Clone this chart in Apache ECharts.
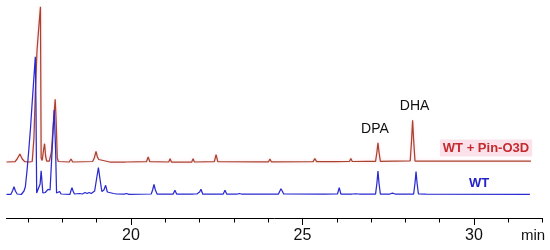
<!DOCTYPE html>
<html>
<head>
<meta charset="utf-8">
<script src="https://cdn.jsdelivr.net/npm/echarts@6/dist/echarts.min.js"></script>
<style>
  html, body { margin: 0; padding: 0; background: #fff; }
  #chart { width: 550px; height: 250px; }
</style>
</head>
<body>
<div id="chart"></div>
<script>
'use strict';
// [retention time (min), signal]; the two traces are stacked with an offset
const wtTrace = [
  [16.37, 23.7], [16.50, 23.7], [16.55, 27.5], [16.59, 31.3], [16.63, 27], [16.68, 24],
  [16.80, 23.5], [16.84, 24.5], [16.88, 27], [16.92, 31.3], [16.97, 48], [17.02, 68],
  [17.07, 90], [17.11, 111], [17.16, 136], [17.21, 161.3], [17.23, 110], [17.25, 25],
  [17.30, 24], [17.35, 34], [17.38, 47.3], [17.41, 34], [17.43, 25], [17.50, 25.5],
  [17.58, 28.7], [17.64, 28], [17.70, 68], [17.76, 108], [17.80, 70], [17.83, 25],
  [17.88, 24.5], [17.92, 26.5], [17.96, 24], [18.22, 23.7], [18.25, 27.5], [18.28, 30.3],
  [18.31, 27], [18.35, 24], [18.50, 24.5], [18.54, 26], [18.58, 24], [18.66, 25.5],
  [18.72, 24.5], [18.78, 25.5], [18.84, 24.5], [18.94, 27], [19.00, 40], [19.05, 50.3],
  [19.10, 38], [19.15, 26.5], [19.21, 28], [19.26, 32.7], [19.31, 26], [19.36, 24],
  [19.49, 24.5], [19.53, 26.3], [19.58, 24], [19.80, 23.8], [19.87, 24.5], [19.94, 23.7],
  [20.59, 24], [20.63, 28], [20.67, 33.7], [20.71, 28], [20.76, 24],
  [21.23, 24], [21.28, 27.7], [21.33, 24],
  [21.82, 24], [21.87, 25.3], [21.93, 24.2], [22.00, 26], [22.04, 28.7], [22.09, 24],
  [22.69, 24], [22.74, 27.7], [22.79, 24],
  [23.10, 24], [23.16, 24.5], [23.22, 24],
  [24.30, 24], [24.34, 27], [24.37, 29.3], [24.41, 27], [24.45, 24],
  [25.56, 23.8], [25.60, 24.5], [25.64, 23.8],
  [26.02, 24], [26.07, 30.3], [26.12, 24],
  [26.45, 24], [26.50, 25.3], [26.55, 24.2], [26.60, 25.3], [26.65, 24],
  [26.85, 24], [26.90, 25.3], [26.95, 24],
  [27.13, 24], [27.17, 35], [27.20, 47], [27.23, 35], [27.27, 24],
  [27.55, 24], [27.62, 24.8], [27.70, 24],
  [28.24, 24], [28.28, 35], [28.31, 46.5], [28.34, 35], [28.38, 24],
  [28.60, 23.8], [31.63, 23.7]
];

const mixTrace = [
  [16.37, 56], [16.62, 56.3], [16.68, 59], [16.76, 64], [16.83, 59], [16.90, 56.3],
  [17.05, 56], [17.12, 56.5], [17.17, 80], [17.21, 125], [17.26, 168], [17.31, 190],
  [17.36, 211.3], [17.38, 60], [17.41, 57.5], [17.45, 68], [17.48, 74.3], [17.51, 62],
  [17.54, 57], [17.62, 57], [17.68, 66], [17.73, 92], [17.79, 118.7], [17.82, 95],
  [17.85, 60], [17.88, 56.5], [18.20, 56], [18.25, 59], [18.30, 56],
  [18.88, 56.5], [18.93, 60], [18.98, 66.6], [19.02, 61], [19.06, 58.5], [19.10, 56.5],
  [19.38, 56], [19.42, 57.6], [19.46, 56],
  [19.76, 56], [19.80, 57], [19.84, 56],
  [20.45, 56.3], [20.50, 61], [20.55, 56.3],
  [21.10, 56], [21.14, 59.3], [21.18, 56],
  [21.56, 56], [21.60, 57.6], [21.64, 56], [21.77, 56], [21.81, 59.3], [21.85, 56],
  [22.43, 56.3], [22.48, 63.3], [22.53, 56.3],
  [23.78, 56.2], [23.82, 57.6], [23.86, 56.2], [24.01, 56.2], [24.05, 59], [24.09, 56.2],
  [25.31, 56.4], [25.36, 59.5], [25.41, 56.4],
  [25.88, 56.4], [25.92, 58], [25.96, 56.4],
  [26.37, 56.5], [26.41, 59.5], [26.45, 56.5],
  [26.86, 56.6], [26.90, 58.2], [26.94, 56.6],
  [27.13, 56.7], [27.17, 66], [27.20, 75.3], [27.23, 66], [27.27, 56.7],
  [27.63, 56.8], [27.67, 57.6], [27.71, 56.8],
  [28.14, 57], [28.18, 78], [28.21, 97.7], [28.24, 78], [28.28, 57],
  [28.82, 57], [28.86, 59], [28.90, 57],
  [31.66, 57]
];

const majorTicks = [20, 25, 30];
const minorTicks = [17, 18, 19, 20, 21, 22, 23, 24, 25, 26, 27, 28, 29, 30, 31, 32];
const peakNames = ['DPA', 'DHA'];
const peakTimes = [27.20, 28.21];
const peakHeights = [75.3, 97.7];

const FONT = 'Arial, "Liberation Sans", sans-serif';
const RED = '#a8442e';
const BLUE = '#2a2ad0';

const chart = echarts.init(document.getElementById('chart'), null, { renderer: 'canvas' });

const xBase = {
  type: 'value',
  min: 16.37,
  max: 32,
  position: 'bottom',
  splitLine: { show: false }
};

chart.setOption({
  animation: false,
  backgroundColor: '#fff',
  grid: { left: 6.5, right: 7.4, top: 0, bottom: 32 },
  xAxis: [
    Object.assign({}, xBase, {
      axisLine: { show: true, lineStyle: { color: '#000', width: 1 } },
      axisTick: { show: true, length: 7, customValues: majorTicks, lineStyle: { color: '#000' } },
      axisLabel: { customValues: majorTicks, fontSize: 16, color: '#111', margin: 10, fontFamily: FONT }
    }),
    Object.assign({}, xBase, {
      axisLine: { show: false },
      axisTick: { show: true, length: 4.5, customValues: minorTicks, lineStyle: { color: '#000' } },
      axisLabel: { show: false }
    })
  ],
  yAxis: { type: 'value', min: 0, max: 218, show: false },
  series: [
    {
      name: 'WT + Pin-O3D',
      type: 'line',
      data: mixTrace,
      showSymbol: false,
      lineStyle: { color: RED, width: 1.25, shadowColor: 'rgba(255,120,160,0.35)', shadowBlur: 3 },
      markPoint: {
        symbol: 'rect',
        symbolSize: 1,
        itemStyle: { color: 'rgba(0,0,0,0)' },
        label: { show: true, color: '#111', fontSize: 14, fontFamily: FONT, formatter: p => p.name },
        data: peakNames.map((n, i) => ({
          name: n,
          coord: [peakTimes[i], peakHeights[i]],
          label: { offset: [i === 0 ? -3 : 2, -14] }
        }))
      }
    },
    {
      name: 'WT',
      type: 'line',
      data: wtTrace,
      showSymbol: false,
      lineStyle: { color: BLUE, width: 1.25 }
    }
  ],
  graphic: [
    {
      type: 'text', x: 486, y: 148,
      style: {
        text: 'WT + Pin-O3D', fill: '#c42a2e', font: 'bold 13px ' + FONT,
        align: 'center', verticalAlign: 'middle',
        backgroundColor: '#fbe2ea', padding: [2, 3]
      }
    },
    {
      type: 'text', x: 479, y: 183,
      style: { text: 'WT', fill: '#2323c8', font: 'bold 13px ' + FONT, align: 'center', verticalAlign: 'middle' }
    },
    {
      type: 'text', x: 533, y: 236,
      style: { text: 'min', fill: '#111', font: '15px ' + FONT, align: 'center', verticalAlign: 'middle' }
    }
  ]
});
</script>
</body>
</html>
